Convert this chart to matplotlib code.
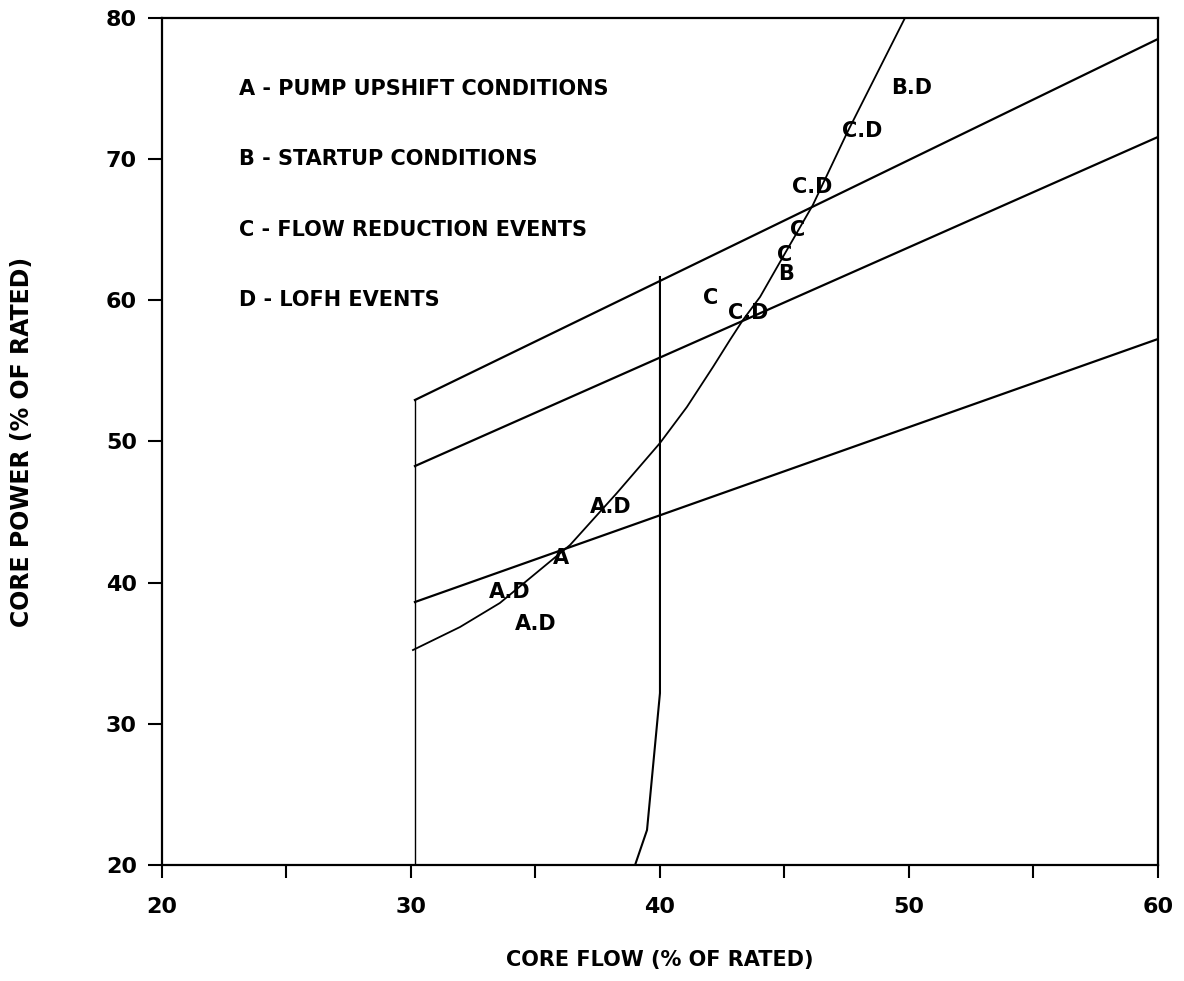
import matplotlib.pyplot as plt
from matplotlib.ticker import MultipleLocator

#----- Data -----
# upper limit line (box top), middle and lower bands
upper_x = [30.16, 60.0]
upper_y = [52.94, 78.51]
mid_x = [30.16, 60.0]
mid_y = [48.26, 71.57]
low_x = [30.16, 60.0]
low_y = [38.63, 57.26]

# left vertical boundary at ~30% flow
left_x = [30.16, 30.16]
left_y = [20.0, 52.94]

# vertical boundary near 40% flow (bends at bottom)
vert_x = [39.0, 39.48, 40.0, 40.0]
vert_y = [20.0, 22.48, 32.18, 61.65]

# rod line / operating curve
curve_x = [30.08, 31.97, 33.57, 36.39, 38.27, 40.0, 41.08, 42.13, 42.81, 43.33, 44.02, 44.82, 46.14, 47.51, 49.84]
curve_y = [35.23, 36.86, 38.56, 42.67, 46.35, 49.89, 52.44, 55.28, 57.19, 58.6, 60.24, 62.71, 66.75, 71.85, 80.0]

# event labels on the curve
pt_text = ["B.D", "C.D", "C.D", "C", "C", "B", "C", "C.D", "A.D", "A", "A.D", "A.D"]
pt_x = [50.12, 48.11, 46.10, 45.54, 45.02, 45.08, 42.05, 43.53, 38.03, 36.02, 33.98, 35.02]
pt_y = [75.06, 71.99, 68.03, 64.98, 63.21, 61.86, 60.17, 59.1, 45.36, 41.75, 39.34, 37.07]

key_text = ["A - PUMP UPSHIFT CONDITIONS", "B - STARTUP CONDITIONS",
            "C - FLOW REDUCTION EVENTS", "D - LOFH EVENTS"]
key_y = [75.0, 70.0, 65.0, 60.0]

#----- Plot -----
plt.rcParams["font.family"] = ["DejaVu Sans"]
plt.rcParams["font.weight"] = "bold"

fig = plt.figure(figsize=(11.84, 9.81), dpi=100)
ax = fig.add_axes([0.1368, 0.1182, 0.978 - 0.1368, 0.9817 - 0.1182])

lc = "black"
ax.plot(upper_x, upper_y, color=lc, lw=1.6)
ax.plot(mid_x, mid_y, color=lc, lw=1.6)
ax.plot(low_x, low_y, color=lc, lw=1.6)
ax.plot(left_x, left_y, color=lc, lw=1.0)
ax.plot(vert_x, vert_y, color=lc, lw=1.5)
ax.plot(curve_x, curve_y, color=lc, lw=1.3)

for t, x, y in zip(pt_text, pt_x, pt_y):
	ax.text(x, y, t, ha="center", va="center", fontsize=15, fontweight="bold")

for t, y in zip(key_text, key_y):
	ax.text(23.1, y, t, ha="left", va="center", fontsize=15, fontweight="bold")

ax.set_xlim(20, 60)
ax.set_ylim(20, 80)
ax.xaxis.set_major_locator(MultipleLocator(10))
ax.xaxis.set_minor_locator(MultipleLocator(5))
ax.yaxis.set_major_locator(MultipleLocator(10))
ax.tick_params(axis="x", which="both", direction="out", length=9, width=1.5, pad=14, labelsize=16)
ax.tick_params(axis="y", which="major", direction="out", length=10, width=1.5, pad=8, labelsize=16)
for s in ax.spines.values():
	s.set_linewidth(1.6)

ax.set_xlabel("CORE FLOW (% OF RATED)", fontsize=15, fontweight="bold", labelpad=24)
ax.set_ylabel("CORE POWER (% OF RATED)", fontsize=17, fontweight="bold", labelpad=52)

plt.savefig("out.png", dpi=100)
plt.close()
